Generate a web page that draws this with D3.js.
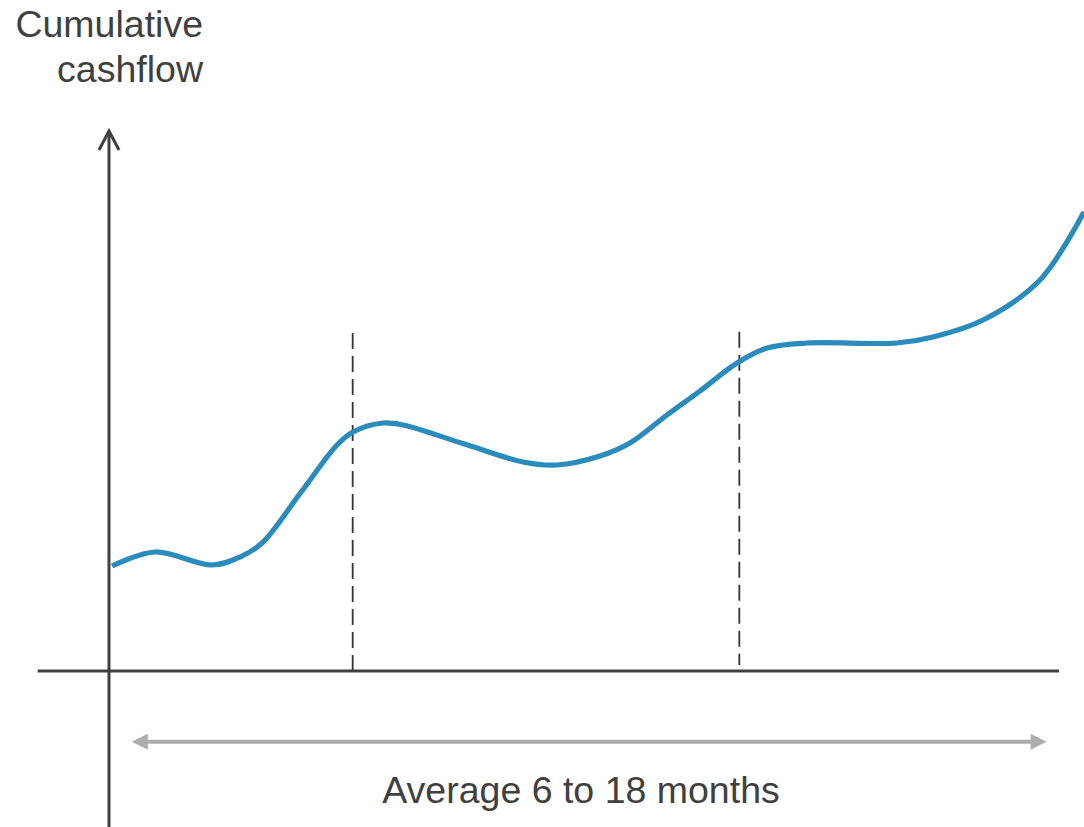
<!DOCTYPE html>
<html>
<head>
<meta charset="utf-8">
<script src="https://cdn.jsdelivr.net/npm/d3@7"></script>
<style>
  html, body { margin: 0; padding: 0; background: #fff; }
  svg { display: block; }
  text { font-family: "Liberation Sans", Arial, sans-serif; fill: #404040; }
</style>
</head>
<body>
<svg id="chart" width="1084" height="827"></svg>
<script>
// Time along the x axis (abstract units, 0 = start of the axis)
const timePoints = [0.32, 4.84, 10.84, 13.79, 16.11, 20.11, 24.0, 25.68, 28.84, 30.95, 37.26, 43.58, 47.16, 51.68, 54.84, 58.74, 62.21, 66.11, 69.26, 73.47, 82.95, 86.74, 92.0, 98.0, 102.63];
// Cumulative cashflow at those times (abstract units)
const cashflowValues = [19.41, 22.0, 19.59, 21.07, 23.66, 32.81, 41.77, 44.18, 45.84, 45.47, 42.05, 38.63, 38.08, 39.74, 42.14, 47.32, 51.76, 56.93, 59.7, 60.63, 60.63, 61.74, 64.88, 72.27, 84.84];
// Dashed phase markers: time, top value, bottom value
const markerTimes = [25.65, 66.35];
const markerTops = [62.5, 62.7];
const markerBottoms = [0, 1.1];
// Axis extents
const xAxisExtent = [-7.5, 100];
const yAxisExtent = [-29, 100];
// Duration span arrow
const spanStart = 2.4, spanEnd = 98.7, spanLevel = -13.1;
const spanLabel = "Average 6 to 18 months";
const yTitleLines = ["Cumulative", "cashflow"];

const svg = d3.select("#chart");
const x = d3.scaleLinear().domain([0, 100]).range([109, 1059]);
const y = d3.scaleLinear().domain([0, 100]).range([671, 130]);

const axisColor = "#404040";

// Y axis with open arrowhead
svg.append("line")
  .attr("x1", x(0)).attr("x2", x(0))
  .attr("y1", y(yAxisExtent[0])).attr("y2", y(yAxisExtent[1]) + 1)
  .attr("stroke", axisColor).attr("stroke-width", 3);
svg.append("path")
  .attr("d", `M${x(0) - 10},${y(yAxisExtent[1]) + 20} L${x(0)},${y(yAxisExtent[1]) + 1} L${x(0) + 10},${y(yAxisExtent[1]) + 20}`)
  .attr("fill", "none").attr("stroke", axisColor).attr("stroke-width", 3);

// X axis
svg.append("line")
  .attr("x1", x(xAxisExtent[0])).attr("x2", x(xAxisExtent[1]))
  .attr("y1", y(0)).attr("y2", y(0))
  .attr("stroke", axisColor).attr("stroke-width", 3);

// Dashed phase markers
svg.selectAll("line.marker")
  .data(markerTimes)
  .join("line")
  .attr("class", "marker")
  .attr("x1", d => x(d)).attr("x2", d => x(d))
  .attr("y1", (d, i) => y(markerTops[i]))
  .attr("y2", (d, i) => y(markerBottoms[i]))
  .attr("stroke", "#333").attr("stroke-width", 1.8)
  .attr("stroke-dasharray", "16,7");

// Cashflow curve
const pts = timePoints.map((t, i) => [t, cashflowValues[i]]);
const line = d3.line()
  .x(d => x(d[0]))
  .y(d => y(d[1]))
  .curve(d3.curveCatmullRom.alpha(0.5));
svg.append("path")
  .datum(pts)
  .attr("d", line)
  .attr("fill", "none")
  .attr("stroke", "#2a8bbd")
  .attr("stroke-width", 5.2)
  .attr("stroke-linecap", "butt")
  .attr("stroke-linejoin", "round");

// Duration span double arrow
const spanY = y(spanLevel);
const spanColor = "#adadad";
svg.append("line")
  .attr("x1", x(spanStart) + 12).attr("x2", x(spanEnd) - 12)
  .attr("y1", spanY).attr("y2", spanY)
  .attr("stroke", spanColor).attr("stroke-width", 4);
svg.append("path")
  .attr("d", `M${x(spanStart)},${spanY} L${x(spanStart) + 16},${spanY - 8} L${x(spanStart) + 16},${spanY + 8} Z`)
  .attr("fill", spanColor);
svg.append("path")
  .attr("d", `M${x(spanEnd)},${spanY} L${x(spanEnd) - 16},${spanY - 8} L${x(spanEnd) - 16},${spanY + 8} Z`)
  .attr("fill", spanColor);

// Span label
svg.append("text")
  .attr("x", 581)
  .attr("y", 803)
  .attr("text-anchor", "middle")
  .attr("font-size", 37.5)
  .text(spanLabel);

// Y axis title
svg.append("text")
  .attr("text-anchor", "end")
  .attr("font-size", 37.5)
  .selectAll("tspan")
  .data(yTitleLines)
  .join("tspan")
  .attr("x", 203)
  .attr("y", (d, i) => 37 + i * 45)
  .text(d => d);
</script>
</body>
</html>
